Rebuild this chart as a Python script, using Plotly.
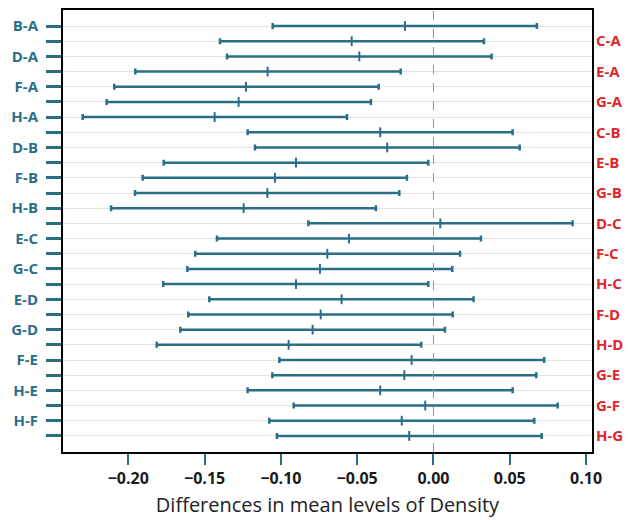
import plotly.graph_objects as go

comparisons = ["B-A", "C-A", "D-A", "E-A", "F-A", "G-A", "H-A",
               "C-B", "D-B", "E-B", "F-B", "G-B", "H-B",
               "D-C", "E-C", "F-C", "G-C", "H-C",
               "E-D", "F-D", "G-D", "H-D",
               "F-E", "G-E", "H-E",
               "G-F", "H-F",
               "H-G"]
diff = [-0.0187, -0.0536, -0.0486, -0.1087, -0.1229, -0.1277, -0.1434,
        -0.0349, -0.0303, -0.0901, -0.1039, -0.1089, -0.1244,
        0.0045, -0.0554, -0.0696, -0.0744, -0.0901,
        -0.0602, -0.0739, -0.0792, -0.0949,
        -0.0143, -0.0191, -0.0349,
        -0.0054, -0.0208,
        -0.0159]
lower = [-0.1054, -0.1399, -0.1353, -0.1954, -0.2092, -0.2142, -0.2299,
         -0.1218, -0.1170, -0.1768, -0.1906, -0.1956, -0.2113,
         -0.0820, -0.1419, -0.1561, -0.1613, -0.1771,
         -0.1469, -0.1607, -0.1659, -0.1814,
         -0.1010, -0.1056, -0.1218,
         -0.0916, -0.1076,
         -0.1026]
upper = [0.0678, 0.0331, 0.0381, -0.0215, -0.0359, -0.0410, -0.0567,
         0.0519, 0.0565, -0.0034, -0.0174, -0.0224, -0.0377,
         0.0912, 0.0311, 0.0174, 0.0123, -0.0034,
         0.0263, 0.0126, 0.0075, -0.0080,
         0.0726, 0.0674, 0.0519,
         0.0814, 0.0661,
         0.0709]
x_ticks = [-0.20, -0.15, -0.10, -0.05, 0.00, 0.05, 0.10]
x_title = "Differences in mean levels of Density"

TEAL = "#2b6e87"
RED = "#e0262b"
FONT = "Open Sans"

idx = list(range(len(comparisons)))
plus = [u - d for u, d in zip(upper, diff)]
minus = [d - l for d, l in zip(diff, lower)]

fig = go.Figure()
fig.add_trace(go.Scatter(
    x=diff, y=idx, mode="markers",
    marker=dict(symbol="line-ns", size=7, line=dict(width=2, color=TEAL), color=TEAL),
    error_x=dict(type="data", symmetric=False, array=plus, arrayminus=minus,
                 color=TEAL, thickness=2.5, width=3),
    showlegend=False, hoverinfo="skip"))
fig.add_trace(go.Scatter(
    x=diff, y=idx, mode="markers", yaxis="y2",
    marker=dict(opacity=0), showlegend=False, hoverinfo="skip"))

yrange = [28.06, -1.055]
left_text = [c if i % 2 == 0 else "" for i, c in enumerate(comparisons)]
right_vals = [i for i in idx if i % 2 == 1]
right_text = [comparisons[i] for i in right_vals]

fig.add_vline(x=0, line=dict(color="#8a9aa3", width=1, dash="dash"))

fig.update_layout(
    width=630, height=520,
    margin=dict(l=63, r=38, t=10, b=68),
    plot_bgcolor="white", paper_bgcolor="white",
    font=dict(family=FONT),
    xaxis=dict(range=[-0.2428, 0.1039], tickvals=x_ticks, automargin=False,
               ticktext=[("\u2212" if v < 0 else "") + f"{abs(v):.2f}" for v in x_ticks],
               ticks="outside", ticklen=11, tickwidth=1.5, tickcolor=TEAL,
               tickfont=dict(family=FONT, size=16, color="#1a1a1a", weight="bold"),
               showgrid=False, zeroline=False,
               showline=True, linecolor="black", linewidth=2, mirror=True,
               title=dict(text=x_title, font=dict(family=FONT, size=20, color="#222222"),
                          standoff=10)),
    yaxis=dict(range=yrange, tickvals=idx, ticktext=left_text, automargin=False,
               ticks="outside", ticklen=15, tickwidth=2.5, tickcolor=TEAL,
               tickfont=dict(family=FONT, size=15, color=TEAL, weight="bold"),
               ticklabelstandoff=5,
               showgrid=True, gridcolor="#e3e3e3", gridwidth=1, zeroline=False,
               showline=True, linecolor="black", linewidth=2, mirror=True),
    yaxis2=dict(range=yrange, overlaying="y", side="right", automargin=False,
                tickvals=right_vals, ticktext=right_text, ticks="",
                tickfont=dict(family=FONT, size=15, color=RED, weight="bold"),
                ticklabelstandoff=3,
                showgrid=False, zeroline=False, showline=False),
)

fig.write_html("out.html")
